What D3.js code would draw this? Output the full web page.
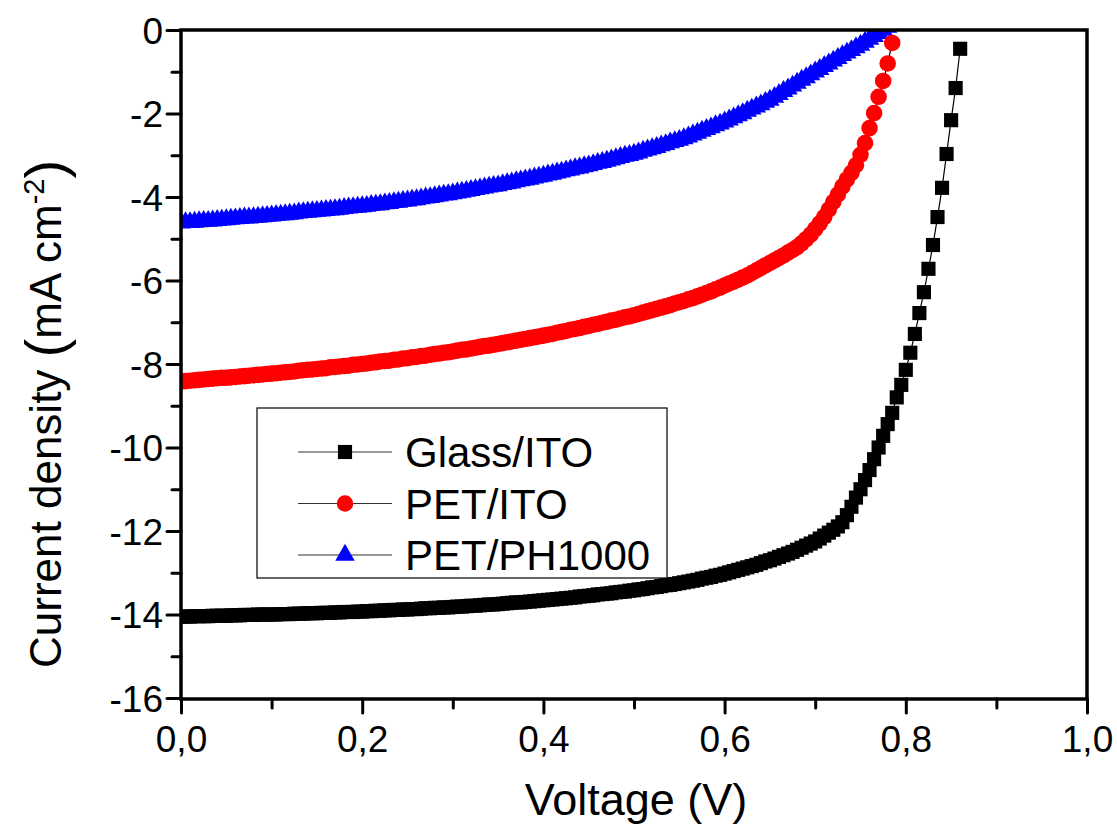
<!DOCTYPE html>
<html>
<head>
<meta charset="utf-8">
<script src="https://cdn.jsdelivr.net/npm/d3@7"></script>
<style>
  body { margin: 0; background: #fff; }
  svg { display: block; font-family: "Liberation Sans", Arial, sans-serif; }
</style>
</head>
<body>
<svg id="canvas"></svg>
<script>
// J-V sweep, one reading every 0.005 V starting at 0 V
const vStep = 0.005

const seriesNames = ['Glass/ITO', 'PET/ITO', 'PET/PH1000']

// current density (mA cm-2)
const glassITO = [
  -14.05,-14.05,-14.05,-14.04,-14.04,-14.04,-14.04,-14.03,-14.03,-14.03,
  -14.03,-14.02,-14.02,-14.02,-14.01,-14.01,-14.01,-14.00,-14.00,-14.00,
  -14.00,-14.00,-13.99,-13.99,-13.99,-13.98,-13.98,-13.98,-13.97,-13.97,
  -13.97,-13.96,-13.96,-13.96,-13.95,-13.95,-13.94,-13.94,-13.94,-13.93,
  -13.93,-13.92,-13.92,-13.91,-13.91,-13.90,-13.90,-13.89,-13.89,-13.88,
  -13.88,-13.87,-13.87,-13.86,-13.85,-13.85,-13.84,-13.84,-13.83,-13.83,
  -13.82,-13.81,-13.81,-13.80,-13.79,-13.79,-13.78,-13.77,-13.76,-13.76,
  -13.75,-13.74,-13.73,-13.72,-13.71,-13.71,-13.70,-13.69,-13.68,-13.67,
  -13.66,-13.65,-13.64,-13.63,-13.62,-13.61,-13.60,-13.59,-13.57,-13.56,
  -13.55,-13.54,-13.52,-13.51,-13.50,-13.49,-13.47,-13.46,-13.45,-13.43,
  -13.42,-13.40,-13.39,-13.37,-13.35,-13.34,-13.32,-13.30,-13.29,-13.27,
  -13.25,-13.23,-13.21,-13.19,-13.17,-13.14,-13.12,-13.10,-13.07,-13.05,
  -13.02,-12.99,-12.96,-12.93,-12.90,-12.87,-12.84,-12.81,-12.77,-12.73,
  -12.70,-12.66,-12.62,-12.58,-12.54,-12.50,-12.45,-12.40,-12.35,-12.30,
  -12.25,-12.18,-12.11,-12.04,-11.97,-11.89,-11.79,-11.62,-11.42,-11.20,
  -11.00,-10.78,-10.54,-10.28,-10.00,-9.72,-9.44,-9.17,-8.80,-8.50,
  -8.14,-7.73,-7.28,-6.78,-6.28,-5.72,-5.15,-4.48,-3.78,-2.97,
  -2.16,-1.39,-0.45
]

const petITO = [
  -8.42,-8.41,-8.40,-8.39,-8.38,-8.37,-8.36,-8.35,-8.34,-8.33,
  -8.33,-8.32,-8.31,-8.30,-8.29,-8.28,-8.27,-8.26,-8.25,-8.24,
  -8.23,-8.22,-8.21,-8.20,-8.19,-8.18,-8.16,-8.15,-8.14,-8.13,
  -8.12,-8.11,-8.10,-8.08,-8.07,-8.06,-8.05,-8.04,-8.02,-8.01,
  -8.00,-7.99,-7.97,-7.96,-7.94,-7.93,-7.92,-7.90,-7.89,-7.87,
  -7.86,-7.84,-7.83,-7.81,-7.80,-7.78,-7.76,-7.75,-7.73,-7.72,
  -7.70,-7.68,-7.66,-7.65,-7.63,-7.61,-7.59,-7.57,-7.56,-7.54,
  -7.52,-7.50,-7.48,-7.46,-7.44,-7.42,-7.40,-7.38,-7.36,-7.34,
  -7.32,-7.30,-7.28,-7.25,-7.23,-7.21,-7.18,-7.16,-7.14,-7.11,
  -7.09,-7.06,-7.04,-7.01,-6.99,-6.96,-6.94,-6.91,-6.88,-6.86,
  -6.83,-6.80,-6.77,-6.74,-6.71,-6.68,-6.65,-6.62,-6.59,-6.55,
  -6.52,-6.49,-6.45,-6.42,-6.38,-6.34,-6.30,-6.26,-6.21,-6.17,
  -6.12,-6.07,-6.03,-5.98,-5.93,-5.88,-5.82,-5.76,-5.70,-5.64,
  -5.58,-5.52,-5.46,-5.40,-5.33,-5.27,-5.20,-5.11,-5.01,-4.90,
  -4.77,-4.63,-4.48,-4.30,-4.12,-3.94,-3.75,-3.58,-3.42,-3.24,
  -2.99,-2.71,-2.35,-1.99,-1.60,-1.22,-0.80,-0.31
]

const petPH1000 = [
  -4.62,-4.61,-4.61,-4.60,-4.59,-4.58,-4.58,-4.57,-4.56,-4.55,
  -4.54,-4.53,-4.52,-4.51,-4.50,-4.50,-4.49,-4.48,-4.47,-4.46,
  -4.45,-4.44,-4.43,-4.42,-4.41,-4.40,-4.38,-4.37,-4.36,-4.35,
  -4.34,-4.33,-4.32,-4.31,-4.30,-4.29,-4.27,-4.26,-4.25,-4.24,
  -4.23,-4.22,-4.20,-4.19,-4.18,-4.16,-4.15,-4.13,-4.12,-4.10,
  -4.09,-4.07,-4.06,-4.04,-4.02,-4.01,-3.99,-3.97,-3.95,-3.94,
  -3.92,-3.90,-3.88,-3.86,-3.84,-3.82,-3.80,-3.78,-3.76,-3.74,
  -3.73,-3.70,-3.68,-3.66,-3.63,-3.61,-3.59,-3.57,-3.54,-3.52,
  -3.50,-3.47,-3.45,-3.42,-3.40,-3.37,-3.35,-3.32,-3.30,-3.27,
  -3.25,-3.22,-3.19,-3.17,-3.14,-3.11,-3.08,-3.05,-3.02,-3.00,
  -2.97,-2.94,-2.90,-2.87,-2.84,-2.81,-2.77,-2.74,-2.70,-2.67,
  -2.64,-2.60,-2.56,-2.51,-2.47,-2.42,-2.38,-2.34,-2.29,-2.25,
  -2.20,-2.15,-2.10,-2.05,-2.00,-1.94,-1.89,-1.84,-1.79,-1.73,
  -1.68,-1.61,-1.54,-1.47,-1.41,-1.34,-1.27,-1.20,-1.14,-1.07,
  -1.00,-0.94,-0.87,-0.81,-0.74,-0.68,-0.61,-0.55,-0.49,-0.42,
  -0.36,-0.29,-0.22,-0.15,-0.08,0.00,0.07,0.15
]

const xTicks = [0, 0.2, 0.4, 0.6, 0.8, 1.0]
const xMinorTicks = [0.1, 0.3, 0.5, 0.7, 0.9]
const yTicks = [0, -2, -4, -6, -8, -10, -12, -14, -16]
const yMinorTicks = [-1, -3, -5, -7, -9, -11, -13, -15]

// chart frame
const width = 1117
const height = 824
const plot = { left: 181, right: 1087, top: 30, bottom: 698 }

let canvas = d3.select('#canvas')
canvas.attr('width', width).attr('height', height)

let xScale = d3.scaleLinear().domain([0, 1]).range([plot.left, plot.right])
let yScale = d3.scaleLinear().domain([-16, 0]).range([plot.bottom, plot.top])

let toPoints = (arr) => arr.map((j, i) => ({ v: i * vStep, j: j }))

let series = [
  { name: seriesNames[0], color: '#000000', symbol: d3.symbolSquare, size: 200, points: toPoints(glassITO) },
  { name: seriesNames[1], color: '#ff0000', symbol: d3.symbolCircle, size: 215, points: toPoints(petITO) },
  { name: seriesNames[2], color: '#0000ff', symbol: d3.symbolTriangle, size: 165, points: toPoints(petPH1000) }
]

canvas.append('clipPath').attr('id', 'plot-clip')
  .append('rect')
  .attr('x', plot.left).attr('y', plot.top)
  .attr('width', plot.right - plot.left).attr('height', plot.bottom - plot.top + 1)

let fmt = (d) => d3.format('.1f')(d).replace('.', ',')

let drawAxes = () => {
  let xAxis = d3.axisBottom(xScale).tickValues(xTicks).tickFormat(fmt).tickSize(14)
  let xMinor = d3.axisBottom(xScale).tickValues(xMinorTicks).tickFormat('').tickSize(9)
  let yAxis = d3.axisLeft(yScale).tickValues(yTicks).tickFormat(d => String(d)).tickSize(14)
  let yMinor = d3.axisLeft(yScale).tickValues(yMinorTicks).tickFormat('').tickSize(9)

  let gx = canvas.append('g').attr('transform', `translate(0, ${plot.bottom + 1})`).call(xAxis)
  canvas.append('g').attr('transform', `translate(0, ${plot.bottom + 1})`).call(xMinor)
  let gy = canvas.append('g').attr('transform', `translate(${plot.left}, 0)`).call(yAxis)
  canvas.append('g').attr('transform', `translate(${plot.left}, 0)`).call(yMinor)

  canvas.selectAll('.domain').remove()
  canvas.selectAll('.tick line')
    .attr('stroke', '#000')
    .attr('stroke-width', 3)
    .attr('stroke-linecap', 'round')

  gx.selectAll('text')
    .attr('dy', null)
    .attr('y', 53)
    .attr('fill', '#000')
    .style('font-size', '37px')
  gy.selectAll('text')
    .attr('x', -18)
    .attr('dy', '0.36em')
    .attr('fill', '#000')
    .style('font-size', '37px')
  canvas.selectAll('.tick text').style('font-family', '"Liberation Sans", Arial, sans-serif')

  // frame
  canvas.append('rect')
    .attr('x', plot.left).attr('y', plot.top)
    .attr('width', plot.right - plot.left).attr('height', plot.bottom + 1 - plot.top)
    .attr('fill', 'none')
    .attr('stroke', '#000')
    .attr('stroke-width', 3.5)

  canvas.append('text')
    .attr('x', (plot.left + plot.right) / 2 + 2)
    .attr('y', 815)
    .attr('text-anchor', 'middle')
    .style('font-size', '45px')
    .text('Voltage (V)')

  let ylab = canvas.append('text')
    .attr('transform', 'translate(61, 668) rotate(-90)')
    .attr('text-anchor', 'start')
    .style('font-size', '44px')
  ylab.append('tspan').text('Current density ')
  ylab.append('tspan').style('font-size', '56px').attr('dy', 3).text('(')
  ylab.append('tspan').attr('dy', -3).text('mA cm')
  ylab.append('tspan').attr('dy', -17).style('font-size', '29px').text('-2')
  ylab.append('tspan').attr('dy', 20).style('font-size', '56px').text(')')
}

let drawSeries = () => {
  let line = d3.line().x(d => xScale(d.v)).y(d => yScale(d.j))
  let layer = canvas.append('g').attr('clip-path', 'url(#plot-clip)')
  // blue first so the red circles sit on top near the axis
  let order = [series[2], series[1], series[0]]
  order.forEach(s => {
    let g = layer.append('g')
    g.append('path')
      .datum(s.points)
      .attr('d', line)
      .attr('fill', 'none')
      .attr('stroke', '#000')
      .attr('stroke-width', 1.2)
    g.selectAll('path.mark')
      .data(s.points)
      .enter()
      .append('path')
      .attr('class', 'mark')
      .attr('d', d3.symbol().type(s.symbol).size(s.size))
      .attr('transform', d => `translate(${xScale(d.v)}, ${yScale(d.j)})`)
      .attr('fill', s.color)
  })
}

let drawLegend = () => {
  let lg = canvas.append('g')
  lg.append('rect')
    .attr('x', 257).attr('y', 408)
    .attr('width', 410).attr('height', 170)
    .attr('fill', '#fff')
    .attr('stroke', '#000')
    .attr('stroke-width', 1.2)
  series.forEach((s, i) => {
    let y = 452 + i * 51.5
    lg.append('line')
      .attr('x1', 298).attr('x2', 392)
      .attr('y1', y).attr('y2', y)
      .attr('stroke', '#333')
      .attr('stroke-width', 1.2)
    lg.append('path')
      .attr('d', d3.symbol().type(s.symbol).size(s.size))
      .attr('transform', `translate(345, ${y})`)
      .attr('fill', s.color)
    lg.append('text')
      .attr('x', 405)
      .attr('y', y + 15)
      .style('font-size', '42px')
      .text(s.name)
  })
}

drawSeries()
drawAxes()
drawLegend()
</script>
</body>
</html>
